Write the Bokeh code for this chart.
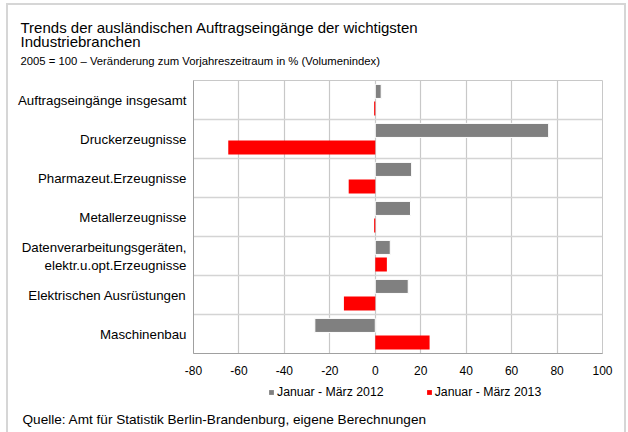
from bokeh.plotting import figure
from bokeh.layouts import column
from bokeh.models import Range1d, FixedTicker, Legend, LegendItem, ColumnDataSource, Label
from bokeh.embed import file_html
from bokeh.resources import INLINE

categories = [
    "Auftragseingänge insgesamt",
    "Druckerzeugnisse",
    "Pharmazeut.Erzeugnisse",
    "Metallerzeugnisse",
    "Datenverarbeitungsgeräten,\nelektr.u.opt.Erzeugnisse",
    "Elektrischen Ausrüstungen",
    "Maschinenbau",
]
values_2012 = [2.6, 76.3, 16.0, 15.5, 6.6, 14.5, -26.6]
values_2013 = [-0.5, -64.7, -11.7, -0.5, 5.1, -13.8, 23.9]
series_names = ["Januar - März 2012", "Januar - März 2013"]
series_colors = ["#808080", "#ff0000"]
x_ticks = [-80, -60, -40, -20, 0, 20, 40, 60, 80, 100]
title_lines = ["Trends der ausländischen Auftragseingänge der wichtigsten", "Industriebranchen"]
subtitle_text = "2005 = 100 – Veränderung zum Vorjahreszeitraum in % (Volumenindex)"
source_text = "Quelle: Amt für Statistik Berlin-Brandenburg, eigene Berechnungen"

FONT = "Liberation Sans"
W = 626


def blank(height, x_range=(0, 1), y_range=(0, 1)):
    f = figure(width=W, height=height, output_backend="svg", toolbar_location=None,
               x_axis_location=None, y_axis_location=None,
               x_range=Range1d(*x_range), y_range=Range1d(*y_range),
               min_border=0, min_border_left=0, min_border_right=0,
               min_border_top=0, min_border_bottom=0, frame_align=False)
    f.outline_line_color = None
    f.grid.visible = False
    return f


# ---- header ----
head = blank(80)
for txt, y in zip(title_lines, [53.0, 39.5]):
    head.add_layout(Label(x=20, y=y, x_units="screen", y_units="screen", text=txt,
                          text_font=FONT, text_font_size="15px",
                          text_baseline="alphabetic", text_color="#000000"))
head.add_layout(Label(x=20, y=19.5, x_units="screen", y_units="screen", text=subtitle_text,
                      text_font=FONT, text_font_size="11.3px",
                      text_baseline="alphabetic", text_color="#000000"))

# ---- main chart ----
n = len(categories)
centers = [n - i - 0.5 for i in range(n)]
src = ColumnDataSource(dict(
    y12=[c + 0.22 for c in centers],
    y13=[c - 0.22 for c in centers],
    v12=values_2012,
    v13=values_2013,
))

p = figure(width=W, height=300, output_backend="svg", toolbar_location=None,
           x_range=Range1d(-80, 100), y_range=Range1d(0, n), frame_align=False,
           min_border_left=193, min_border_right=W - 193 - 409,
           min_border_top=0, min_border_bottom=27)

p.hbar(y="y12", right="v12", left=0, height=0.36, source=src,
       fill_color=series_colors[0], line_color="#ffffff", line_width=1)
p.hbar(y="y13", right="v13", left=0, height=0.36, source=src,
       fill_color=series_colors[1], line_color=None)

p.outline_line_color = "#c8c8c8"
p.xgrid.ticker = FixedTicker(ticks=x_ticks)
p.xgrid.grid_line_color = "#c8c8c8"
p.xgrid.grid_line_width = 1.2
p.ygrid.ticker = FixedTicker(ticks=list(range(0, n + 1)))
p.ygrid.grid_line_color = "#d4d4d4"
p.ygrid.grid_line_width = 1.5

p.xaxis.ticker = FixedTicker(ticks=x_ticks)
p.xaxis.major_label_overrides = {t: str(t) for t in x_ticks}
p.yaxis.ticker = FixedTicker(ticks=centers)
p.yaxis.major_label_overrides = {c: lab for c, lab in zip(centers, categories)}
for ax in (p.xaxis, p.yaxis):
    ax.major_tick_out = 0
    ax.major_tick_in = 0
    ax.minor_tick_out = 0
    ax.minor_tick_in = 0
    ax.axis_line_color = "#a0a0a0"
    ax.major_label_text_font = FONT
    ax.major_label_text_color = "#000000"
p.xaxis.major_label_text_font_size = "12px"
p.xaxis.major_label_standoff = 12
p.yaxis.major_label_text_font_size = "13.3px"
p.yaxis.major_label_standoff = 7

# ---- footer: legend + source ----
# the footer's ranges lie far away from all data, so its bar renderers only feed the legend
foot = blank(52, x_range=(-1000, -999), y_range=(-30, -29))
l12 = foot.hbar(y="y12", right="v12", left=0, height=0.36, source=src,
                fill_color=series_colors[0], line_color=None)
l13 = foot.hbar(y="y13", right="v13", left=0, height=0.36, source=src,
                fill_color=series_colors[1], line_color=None)
legend = Legend(items=[LegendItem(label=series_names[0], renderers=[l12]),
                       LegendItem(label=series_names[1], renderers=[l13])],
                orientation="horizontal", location=(268, 33),
                glyph_width=6, glyph_height=6, label_standoff=3, spacing=42,
                padding=0, margin=0, border_line_color=None, background_fill_alpha=0,
                label_text_font=FONT, label_text_font_size="12.3px",
                label_text_color="#000000", label_height=12, label_width=20)
foot.add_layout(legend)
foot.add_layout(Label(x=22, y=13, x_units="screen", y_units="screen", text=source_text,
                      text_font=FONT, text_font_size="13.6px",
                      text_baseline="alphabetic", text_color="#000000"))

frame_css = (":host::after { content: ''; position: absolute; left: 6px; top: 3px; "
             "right: 0px; bottom: 0px; border: 2px solid #d6d6d6; border-bottom: none; "
             "pointer-events: none; }")
layout = column(head, p, foot, spacing=0, stylesheets=[frame_css])
open("out.html", "w").write(file_html(layout, INLINE))
